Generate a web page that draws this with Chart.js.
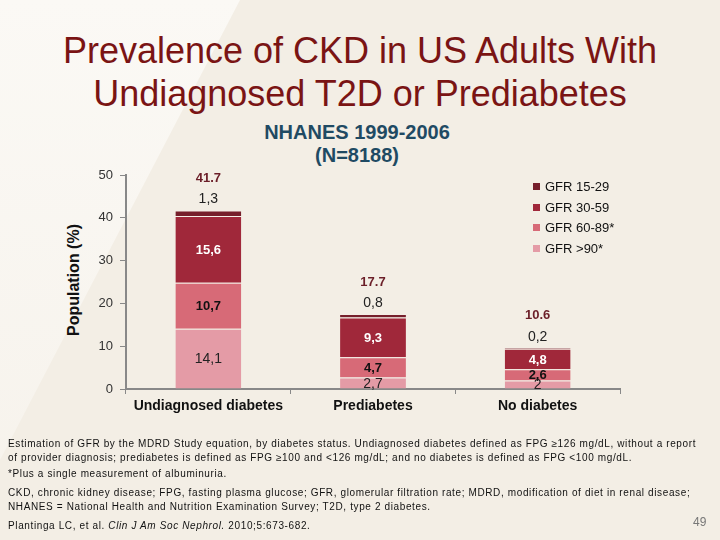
<!DOCTYPE html>
<html lang="en">
<head>
  <meta charset="UTF-8">
  <title>Prevalence of CKD</title>
  <script src="https://cdn.jsdelivr.net/npm/chart.js@4.4.1/dist/chart.umd.min.js"></script>
  <style>
    * { margin: 0; padding: 0; }
    body {
      width: 720px; height: 540px; overflow: hidden; position: relative;
      font-family: "Liberation Sans", Arial, sans-serif;
      background: #f3eee5;
    }
    .wedge {
      position: absolute; left: 0; top: 0; width: 720px; height: 540px;
      background: linear-gradient(180deg, #fbf9f5 0%, #f6f2eb 100%);
      clip-path: polygon(0 0, 240px 0, 0 460px);
    }
    #chart { position: absolute; left: 0; top: 0; }
    .title {
      position: absolute; left: 0; width: 720px; top: 29px; text-align: center;
      font-size: 36px; line-height: 43px; color: #7a1414;
    }
    .sub {
      position: absolute; left: 207px; width: 300px; top: 121px; text-align: center;
      font-size: 20px; line-height: 23px; font-weight: bold; color: #1f4a63;
    }
    .ytitle {
      position: absolute; left: 74px; top: 280px; font-size: 16px; font-weight: bold; color: #111;
      transform: translate(-50%, -50%) rotate(-90deg); white-space: nowrap;
    }
    .legend { position: absolute; left: 533px; top: 177px; font-size: 13px; color: #111; }
    .legend div { height: 20.5px; line-height: 20px; }
    .legend span { display: inline-block; width: 7px; height: 7px; margin-right: 5px; vertical-align: 1px; }
    .notes { position: absolute; left: 8px; top: 437px; font-size: 10px; letter-spacing: 0.62px; line-height: 14px; color: #111; }
    .notes p { margin-bottom: 5px; }
    .notes p.a { margin-bottom: 2px; }
    .page { position: absolute; left: 693px; top: 515px; font-size: 12px; color: #777; }
  </style>
</head>
<body>
  <div class="wedge"></div>
  <div class="title">Prevalence of CKD in US Adults With<br>Undiagnosed T2D or Prediabetes</div>
  <div class="sub">NHANES 1999-2006<br>(N=8188)</div>
  <div class="ytitle">Population (%)</div>
  <canvas id="chart" width="720" height="540"></canvas>
  <div class="legend" id="legend"></div>
  <div class="notes">
    <p class="a">Estimation of GFR by the MDRD Study equation, by diabetes status. Undiagnosed diabetes defined as FPG ≥126 mg/dL, without a report<br>of provider diagnosis; prediabetes is defined as FPG ≥100 and &lt;126 mg/dL; and no diabetes is defined as FPG &lt;100 mg/dL.</p>
    <p>*Plus a single measurement of albuminuria.</p>
    <p>CKD, chronic kidney disease; FPG, fasting plasma glucose; GFR, glomerular filtration rate; MDRD, modification of diet in renal disease;<br>NHANES = National Health and Nutrition Examination Survey; T2D, type 2 diabetes.</p>
    <p>Plantinga LC, et al. <i>Clin J Am Soc Nephrol.</i> 2010;5:673-682.</p>
  </div>
  <div class="page">49</div>

  <script>
    const categories = ['Undiagnosed diabetes', 'Prediabetes', 'No diabetes'];
    const gfr90 = [14.1, 2.7, 2];
    const gfr60 = [10.7, 4.7, 2.6];
    const gfr30 = [15.6, 9.3, 4.8];
    const gfr15 = [1.3, 0.8, 0.2];
    const totals = ['41.7', '17.7', '10.6'];
    const seriesNames = ['GFR >90*', 'GFR 60-89*', 'GFR 30-59', 'GFR 15-29'];
    const colors = ['#e49ba6', '#d76a77', '#a0283a', '#761f2b'];

    const fmt = v => String(v).replace('.', ',');

    // segment label styles, one per series
    const labelStyle = [
      { font: '14px "Liberation Sans", Arial', color: '#222' },
      { font: 'bold 13px "Liberation Sans", Arial', color: '#111' },
      { font: 'bold 13px "Liberation Sans", Arial', color: '#fff' },
      { font: '14px "Liberation Sans", Arial', color: '#222' }
    ];

    const labelsPlugin = {
      id: 'segLabels',
      afterDatasetsDraw(chart) {
        const ctx = chart.ctx;
        ctx.save();
        ctx.textAlign = 'center';
        ctx.textBaseline = 'middle';
        chart.data.datasets.forEach((ds, di) => {
          const meta = chart.getDatasetMeta(di);
          meta.data.forEach((bar, i) => {
            ctx.font = labelStyle[di].font;
            ctx.fillStyle = labelStyle[di].color;
            const txt = fmt(ds.data[i]);
            if (di === 3) {
              ctx.fillText(txt, bar.x, bar.y - 11);
              ctx.font = 'bold 13px "Liberation Sans", Arial';
              ctx.fillStyle = '#6b1e28';
              ctx.fillText(totals[i], bar.x, bar.y - 32);
            } else {
              ctx.fillText(txt, bar.x, (bar.y + bar.base) / 2 + 1);
            }
          });
        });
        ctx.restore();
      }
    };

    const chart = new Chart(document.getElementById('chart'), {
      type: 'bar',
      data: {
        labels: categories,
        datasets: [gfr90, gfr60, gfr30, gfr15].map((d, i) => ({
          label: seriesNames[i],
          data: d,
          backgroundColor: colors[i],
          borderColor: '#f4eee6',
          borderWidth: { top: 1 },
          borderSkipped: false,
          barPercentage: 0.4,
          categoryPercentage: 1
        }))
      },
      options: {
        responsive: false,
        animation: false,
        layout: { padding: { left: 60, right: 100, top: 175, bottom: 121 } },
        plugins: { legend: { display: false }, tooltip: { enabled: false } },
        scales: {
          x: {
            stacked: true,
            afterFit: s => { s.height = 30; },
            grid: { drawOnChartArea: false, tickLength: 5, color: '#888', offset: true },
            border: { color: '#888', width: 2 },
            ticks: { color: '#111', font: { size: 14, weight: 'bold', family: '"Liberation Sans", Arial' }, padding: 4 }
          },
          y: {
            stacked: true,
            min: 0, max: 50,
            afterFit: s => { s.width = 66; },
            grid: { drawOnChartArea: false, tickLength: 6, color: '#888' },
            border: { color: '#888', width: 2 },
            ticks: { stepSize: 10, color: '#333', padding: 7, font: { size: 13, family: '"Liberation Sans", Arial' } }
          }
        }
      },
      plugins: [labelsPlugin]
    });

    // legend, top series first
    const legend = document.getElementById('legend');
    for (let i = seriesNames.length - 1; i >= 0; i--) {
      const row = document.createElement('div');
      row.innerHTML = '<span style="background:' + colors[i] + '"></span>' + seriesNames[i];
      legend.appendChild(row);
    }
  </script>
</body>
</html>
